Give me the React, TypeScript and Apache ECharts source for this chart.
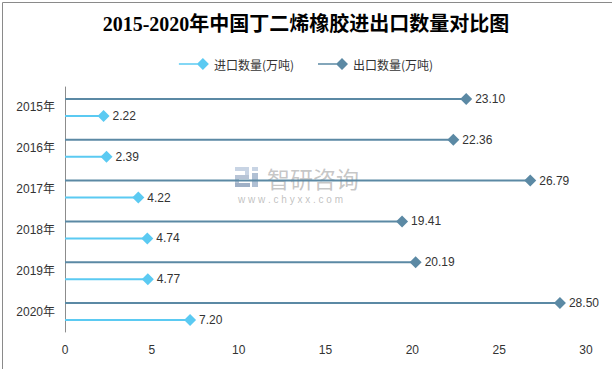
import React, { useEffect, useRef } from "react";
import * as echarts from "echarts";

const years = ["2015年", "2016年", "2017年", "2018年", "2019年", "2020年"];
const exportValues = [23.1, 22.36, 26.79, 19.41, 20.19, 28.5];
const importValues = [2.22, 2.39, 4.22, 4.74, 4.77, 7.2];
const importName = "进口数量(万吨)";
const exportName = "出口数量(万吨)";
const titleText = "2015-2020年中国丁二烯橡胶进出口数量对比图";

const EXPORT_COLOR = "#5b89a4";
const IMPORT_COLOR = "#5bcaf2";
const legendIcon = "path://M0,5.25H22V6.75H0Z M24,0L30,6L24,12L18,6Z";

export default function App() {
  const ref = useRef<HTMLDivElement>(null);
  useEffect(() => {
    if (!ref.current) return;
    const chart = echarts.init(ref.current, null, { renderer: "svg" });
    const barCommon = {
      barWidth: 2,
      barGap: "750%",
    };
    const picCommon = {
      type: "pictorialBar",
      symbol: "diamond",
      symbolSize: [12, 12],
      symbolPosition: "end",
      symbolOffset: ["50%", 0],
      barWidth: 2,
      barGap: "750%",
      z: 3,
      label: {
        show: true,
        position: "right",
        distance: 3,
        color: "#333",
        fontSize: 12,
        fontFamily: "Liberation Sans, Noto Sans CJK SC, sans-serif",
        formatter: (p: any) => Number(p.value).toFixed(2),
      },
    };
    chart.setOption({
      animation: false,
      backgroundColor: "#fff",
      title: {
        text: titleText,
        left: "center",
        top: 9,
        textStyle: {
          fontFamily: "Liberation Serif, Noto Sans CJK SC, serif",
          fontSize: 20,
          fontWeight: "bold",
          color: "#000",
        },
      },
      legend: {
        top: 53,
        left: "center",
        itemWidth: 30,
        itemHeight: 12,
        itemGap: 24,
        textStyle: {
          fontSize: 12,
          color: "#333",
          fontFamily: "Noto Sans CJK SC, sans-serif",
        },
        data: [
          { name: importName, icon: legendIcon },
          { name: exportName, icon: legendIcon },
        ],
      },
      grid: { left: 65, right: 26, top: 87, bottom: 37, containLabel: false },
      xAxis: {
        type: "value",
        min: 0,
        max: 30,
        interval: 5,
        axisLine: { show: false },
        axisTick: { show: false },
        splitLine: { show: false },
        axisLabel: {
          color: "#333",
          fontSize: 12,
          margin: 12,
          fontFamily: "Liberation Sans, sans-serif",
        },
      },
      yAxis: {
        type: "category",
        inverse: true,
        data: years,
        axisLine: { show: true, lineStyle: { color: "#8c8c8c", width: 1 } },
        axisTick: { show: false },
        axisLabel: {
          color: "#333",
          fontSize: 12,
          margin: 10,
          fontFamily: "Liberation Sans, Noto Sans CJK SC, sans-serif",
        },
      },
      graphic: [
        {
          type: "rect",
          left: 0,
          top: 0,
          z: 100,
          shape: { x: 0.5, y: 0.5, width: 610, height: 367 },
          style: { fill: "none", stroke: "#8a8a8a", lineWidth: 1 },
          silent: true,
        },
        {
          type: "group",
          left: 235,
          top: 167,
          z: 0,
          silent: true,
          children: [
            { type: "rect", shape: { x: 0, y: 0, width: 14, height: 4 }, style: { fill: "#c8d4e4" } },
            { type: "rect", shape: { x: 10, y: 0, width: 4, height: 10 }, style: { fill: "#c8d4e4" } },
            { type: "rect", shape: { x: 0, y: 8, width: 14, height: 4 }, style: { fill: "#b7c4d6" } },
            { type: "rect", shape: { x: 0, y: 8, width: 4, height: 12 }, style: { fill: "#b7c4d6" } },
            { type: "rect", shape: { x: 0, y: 16, width: 15, height: 4 }, style: { fill: "#9fb0c6" } },
            { type: "rect", shape: { x: 17, y: 0, width: 6, height: 4 }, style: { fill: "#c8d4e4" } },
            { type: "rect", shape: { x: 17, y: 6, width: 6, height: 14 }, style: { fill: "#b0c0d4" } },
          ],
        },
        {
          type: "text",
          left: 267,
          top: 166,
          silent: true,
          style: {
            text: "智研咨询",
            fontSize: 23,
            lineHeight: 23,
            fill: "rgba(150,150,150,0.55)",
            fontFamily: "Noto Sans CJK SC, sans-serif",
          },
        },
        {
          type: "text",
          left: 238,
          top: 194,
          silent: true,
          style: {
            text: "w w w . c h y x x . c o m",
            fontSize: 10,
            lineHeight: 10,
            fill: "rgba(150,150,150,0.6)",
            fontFamily: "Liberation Sans, sans-serif",
          },
        },
      ],
      series: [
        {
          name: exportName,
          type: "bar",
          data: exportValues,
          itemStyle: { color: EXPORT_COLOR },
          ...barCommon,
        },
        {
          name: importName,
          type: "bar",
          data: importValues,
          itemStyle: { color: IMPORT_COLOR },
          ...barCommon,
        },
        {
          name: exportName,
          data: exportValues,
          itemStyle: { color: EXPORT_COLOR },
          ...picCommon,
        },
        {
          name: importName,
          data: importValues,
          itemStyle: { color: IMPORT_COLOR },
          ...picCommon,
        },
      ],
    } as any);
    return () => chart.dispose();
  }, []);
  return (
    <div
      ref={ref}
      style={{ width: 612, height: 369, position: "absolute", left: 0, top: 0 }}
    />
  );
}
